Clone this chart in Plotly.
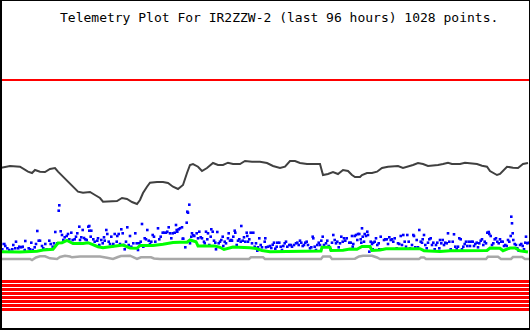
import plotly.graph_objects as go

TITLE = "Telemetry Plot For IR2ZZW-2 (last 96 hours) 1028 points."

# channel 1 (dark line)
ch1_x = [0,10,20,28,32,35,40,45,50,55,58,63,68,73,78,83,90,95,100,103,110,117,122,127,132,137,140,143,147,150,157,163,168,173,178,183,187,190,193,198,202,207,213,218,223,228,233,240,245,252,260,267,273,280,285,290,295,300,307,313,320,323,328,333,338,343,348,352,355,360,362,367,372,377,382,388,393,398,403,408,413,418,423,428,433,438,443,448,452,460,465,470,477,482,487,490,493,497,500,503,507,513,518,523,528]
ch1_y = [168,166,166.7,171.7,173,170,171.7,172,169,168,171.7,176.7,181.7,186.7,191.7,192.7,192,195,198,201.7,201,201,198,199,202,204,200,193,186.7,182.7,182,182,183,186.7,189,185,173,165,164,166.7,171,168,163,165,165,162.7,164,164,161,161.7,161.7,163,166,168,166.7,161,161,163,164,164,164,175,174,172,174,170,171,175,177,177,175,173,173,171.7,168,166.7,166.7,166,168,166.7,165,163,164,166,165.7,165,164,162.7,164,164,162.7,163,164,165.7,166.7,171,173,175,174,170.7,166.7,167.7,168,164,163]

# channel 2 (green line)
ch2_x = [0,20,37,43,53,58,62,67,73,83,88,98,103,113,123,130,137,140,153,163,173,180,187,190,196,198,210,215,220,224,233,243,250,256,262,270,280,290,300,313,321,322,330,331,343,350,357,362,370,372,380,386,400,413,420,424,440,450,470,487,490,500,503,510,515,520,528]
ch2_y = [251.7,252,251.3,250,249.3,243,242.7,240.5,243.5,243.5,242.7,246.7,247.7,246.7,245,248,248.3,245.5,245.5,244.3,242.5,242.3,242.3,240,241.7,246,245.7,246,247.3,249.5,247,247.3,247.7,248.5,250.5,251.7,251.7,251.3,251.3,251.3,251,247.3,247.3,250.5,250.3,249,249.3,246.5,246.5,250.5,250,248.7,248.7,248.7,248.7,250.7,251.5,250.7,250.7,250.5,248,248.3,250.7,248,248,250.7,252]

# channel 3 (grey line)
ch3_x = [0,30,32,36,40,45,50,57,60,65,70,72,80,100,107,113,118,121,130,133,137,141,151,154,160,249,251,263,265,321,323,330,332,355,359,363,372,377,380,419,421,424,426,486,488,498,501,511,513,522,525,530]
ch3_y = [259,259,260,257.5,256.3,256.3,258.3,259,257,255.7,256.5,257.3,256.5,256.5,257.7,259,257,256,255.7,257.3,259,257.3,257.3,258.5,259,259,257.3,257.3,259,259,256.5,256.5,259,258.7,256.5,255.7,255.7,257.5,259,259,257.5,257.5,259,259,256.7,256.7,259,259,257,257,259,259]

# channel 4 (blue samples)
ch4_x = [1.3,4.3,5.3,2.3,7.3,9.3,12.3,13.3,16,15.3,18.3,19.3,21.3,22.7,25.3,24.7,28.7,30,31.3,32.7,34.7,36,37.3,38.7,40,42,43.3,45.3,46.7,49.3,50.7,52.7,54,55.3,57.3,58.7,59.3,60.7,62,63.3,64.7,66.7,68,69.3,71.3,72.7,74.7,76,77.3,79.3,80,81.3,82.7,84,85.3,86.7,88.3,
         89.3,89.3,91.3,90.7,93.3,94.7,97.3,98,99.3,101.3,102.7,104,104.7,106.3,107.3,108.7,110,111.3,112.7,113.3,114.7,116.7,117.3,118.7,120,121.3,122.7,124,124.7,126,127.3,128.7,130,131.3,133.3,135.3,136.7,138,139.3,140.7,142,143.3,144.7,146,147.3,148.7,150,151.3,152.7,154,155.3,158,159.3,160.7,162.7,164,166,167.3,168.7,170,171.3,172.7,174.7,176,176.7,
         177.3,178.7,180,182,182.7,183.3,185.3,186.7,187.3,188,189.3,190,191.3,192,193.3,194.3,196.7,198,199.3,200.7,202,204,204.7,206,207.3,208,209.3,210.7,211.3,212.7,214,215.3,216,217.3,218.7,220,221.3,222.7,223.3,224.7,226,228,228.7,230,231.3,232,233.3,234.7,235.3,236.7,238,239.3,240.7,241.3,242.7,244,245.3,246.7,247.3,248,249.3,250.7,252,253.3,254.7,256,257.3,258,259.3,260.7,262,264.7,
         265.3,266,268,270,271.3,272.7,274,275.3,276.7,277.3,279.3,280.7,282,283.3,284.7,286,287.3,289.3,290.7,292,294,296,297.3,298.7,300,301.3,302.7,304,305.3,306.7,308,310,311.3,312.7,313.3,314.7,316,317.3,318.7,320,321.3,322.7,324,326,327.3,328.7,330.7,332,333.3,334.7,336,337.3,338.7,340,341.3,342.7,344,345.3,346.7,349.3,350.7,352,
         352.7,353.3,354.7,356,357.3,358,359.3,360.7,361.3,362,362.7,364,364.7,366,367.3,368,369.3,370.7,372,372.7,373.3,374.7,376,377.3,378.7,379.3,380.7,382,384,385.3,386.7,388,389.3,390.7,392,393.3,394.7,396.7,398,399.3,400.7,402,403.3,404.7,406,407.3,408.7,410,412,413.3,414,415.3,416.7,418,419.3,420.7,422,422.7,424,425.3,426.7,428,429.3,430.7,432,433.3,434.7,436,437.3,439.3,440,
         441.3,442.7,444,445.3,446.7,448,449.3,450.7,452.7,454,455.3,456.7,458,459.3,460.7,462,463.3,464.7,466,467.3,468.7,470,471.3,472.7,474,475.3,476.7,478,479.3,480.7,482,483.3,484.7,486,487.3,488.7,489.3,490.7,492,493.3,494.7,496,497.3,498.7,500,501.3,502.7,504,505.3,506.7,508,509.3,510.7,511.3,512,512.7,513.3,514.7,516,517.3,518.7,520,521.3,522.7,524,525.3,526,527.3,528.7]
ch4_y = [244,244,246,249.3,248.3,250,249.3,245,241.7,248.3,248.3,246.7,247.3,246.7,241,250,248.3,249.3,242.7,250,247.3,244,231,240.7,240.7,246,248.3,244,249.3,240.7,244,246.7,243.3,232,243.3,210.7,205.3,231.3,235,240,237.3,236,234,239.3,232.7,240,239.3,236.7,233.3,226.7,240,237.3,230,238,239.3,240,226.7,
         226,230.7,230.7,236.7,239.3,241.7,240.7,238.3,245,240,243.3,237.3,240.7,230,234,241.7,244,236.7,246,244,234,241.7,236,234,244,229.3,233.3,245,249.3,241.7,227.3,245,236,246.7,243.3,233.3,243.3,250,243.3,241.7,224,246.7,238.3,239.3,230,240.7,244,241.7,235,236.7,241.7,228.3,239.3,236.7,232.7,232.7,232.7,231.7,227.3,233.3,238.3,233.3,232.7,225,230,
         231.7,229.3,228.3,227.3,238.7,238.7,247.3,222.7,211.7,212.7,204.7,243.3,236.7,233.3,235.3,236,233.3,238.3,231.7,237.3,238.3,241.7,243.3,231.7,239.3,233.3,245,236.7,229.3,231.7,240.7,242.7,249.3,232,243.3,241.7,240,236.7,246,241.7,243.3,238.3,233.3,240.7,240,240.7,236.7,230.7,232.7,245,240.7,239.3,241.7,226,240.7,237.3,241.7,232.7,236,241.7,239.3,232.7,243.3,232.7,246.7,243.3,250.7,247.3,238.3,245,247.3,241.7,
         238.3,247.3,246.7,246,248,244.7,242.7,248.7,246.7,242.7,242.7,246.7,250,246,243.3,241.7,246.7,245,245,246.7,245,243.3,242.7,245,240.7,242.7,246,245,242.7,241.7,245,248.3,247.3,236.7,238.3,246.7,250,245,242.7,245,240.7,236.7,245,243.3,240.7,246,249.3,242.7,235,240,243.3,241.7,247.3,243.3,236.7,241.7,238.3,240.7,238.3,242.7,242.7,236,
         246.7,244,236,235,240,234,234,239.3,242.7,228.3,236.7,241.7,234,236,231.7,235,251.7,241.7,244,249.3,242.7,241.7,238.3,245,243.3,249.3,236.7,249.3,240,239.3,239.3,244,237.3,240,239.3,241.7,238.3,248.3,243.3,244,236,245,235,241.7,246.7,235,241.7,248.3,245,235,236,247.3,240,247.3,230,241.7,242.7,239.3,235,245,248.3,242.7,239.3,238.3,245,242.7,249.3,245,242.7,248.3,240,
         243.3,240,245,242.7,243.3,233.3,241.7,249.3,241.7,234.3,246.7,249.3,246.7,238.3,239.3,249.3,246.7,244,241.7,246,241.7,246,241.7,241.7,246,244,242.7,247.3,243.3,240.7,239.3,245,241.7,243.3,232.7,232,234,236,245,243.3,239.3,238.3,241.7,243.3,239.3,241.7,241.7,246,245,246,240,241.7,236,216.7,223.3,233.3,240,244,245,248.3,250.7,245,244,246,249.3,242.7,236.7,243.3,242.7]

# constant channels (red)
limit_level = 80
band_levels = [281.5, 285.5, 289.5, 293.5, 297.5, 301.5, 305.5, 309.5]

fig = go.Figure()

fig.add_trace(go.Scatter(x=[0, 530], y=[limit_level, limit_level], mode="lines",
                         line=dict(color="#ff0000", width=2), hoverinfo="skip"))
for lv in band_levels:
    fig.add_trace(go.Scatter(x=[0, 530], y=[lv, lv], mode="lines",
                             line=dict(color="#ff0000", width=3), hoverinfo="skip"))

fig.add_trace(go.Scatter(x=ch3_x, y=ch3_y, mode="lines",
                         line=dict(color="#a8a8a8", width=2.5)))
fig.add_trace(go.Scatter(x=ch1_x, y=ch1_y, mode="lines",
                         line=dict(color="#404040", width=2)))
fig.add_trace(go.Scatter(x=ch4_x, y=ch4_y, mode="markers",
                         marker=dict(color="#0000ff", size=2.6, symbol="square", line=dict(width=0))))
fig.add_trace(go.Scatter(x=ch2_x, y=ch2_y, mode="lines",
                         line=dict(color="#00ff00", width=3)))

fig.add_annotation(x=279, y=17, text=TITLE, showarrow=False,
                   font=dict(family="DejaVu Sans Mono", size=13, color="#000000"),
                   xanchor="center", yanchor="middle")

# border
fig.add_shape(type="line", xref="paper", yref="paper", x0=0.0019, x1=0.0019, y0=0, y1=1,
              line=dict(color="black", width=2))
fig.add_shape(type="line", xref="paper", yref="paper", x0=0.9991, x1=0.9991, y0=0, y1=1,
              line=dict(color="black", width=1))
fig.add_shape(type="line", xref="paper", yref="paper", x0=0, x1=1, y0=0.9985, y1=0.9985,
              line=dict(color="black", width=1))
fig.add_shape(type="line", xref="paper", yref="paper", x0=0, x1=1, y0=0.003, y1=0.003,
              line=dict(color="black", width=2))

fig.update_layout(
    width=530, height=330,
    margin=dict(l=0, r=0, t=0, b=0),
    paper_bgcolor="white", plot_bgcolor="white",
    showlegend=False,
    xaxis=dict(range=[0, 530], visible=False, fixedrange=True),
    yaxis=dict(range=[330, 0], visible=False, fixedrange=True),
)

fig.write_html("out.html", config={"displayModeBar": False})
